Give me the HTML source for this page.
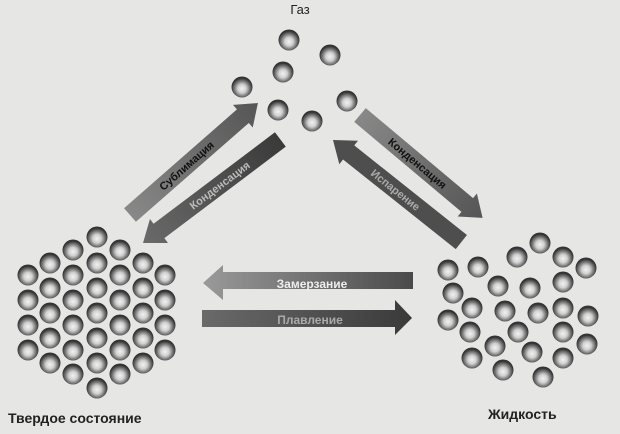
<!DOCTYPE html>
<html><head><meta charset="utf-8"><style>
html,body{margin:0;padding:0;background:#e6e6e4;}
svg{display:block;}
text{font-family:"Liberation Sans",sans-serif;}
</style></head><body>
<svg width="620" height="434" viewBox="0 0 620 434" xmlns="http://www.w3.org/2000/svg">
<defs>
<radialGradient id="ball" cx="0.5" cy="0.58" r="0.5">
<stop offset="0" stop-color="#f2f2f2"/><stop offset="0.4" stop-color="#d0d0d0"/><stop offset="0.72" stop-color="#7a7a7a"/><stop offset="1" stop-color="#333"/>
</radialGradient>
<linearGradient id="gL" x1="0" x2="1" y1="0" y2="0"><stop offset="0" stop-color="#9a9a9a"/><stop offset="1" stop-color="#4a4a4a"/></linearGradient>
<linearGradient id="gD" x1="0" x2="1"><stop offset="0" stop-color="#6a6a6a"/><stop offset="1" stop-color="#3a3a3a"/></linearGradient>
<linearGradient id="gM" x1="0" x2="1"><stop offset="0" stop-color="#888"/><stop offset="1" stop-color="#555"/></linearGradient>
<g id="b"><circle r="10.5" fill="url(#ball)"/></g>
</defs>
<rect width="620" height="434" fill="#e6e6e4"/>

<text x="300" y="14" font-size="13" text-anchor="middle" fill="#222">Газ</text>
<use href="#b" x="289" y="40"/><use href="#b" x="330" y="55"/><use href="#b" x="283" y="72"/>
<use href="#b" x="242" y="87"/><use href="#b" x="278" y="110"/><use href="#b" x="347" y="101"/><use href="#b" x="312" y="121"/>

<g>
<use href="#b" x="28" y="275"/><use href="#b" x="28" y="300"/><use href="#b" x="28" y="325"/><use href="#b" x="28" y="350"/>
<use href="#b" x="50" y="263"/><use href="#b" x="50" y="288"/><use href="#b" x="50" y="313"/><use href="#b" x="50" y="338"/><use href="#b" x="50" y="363"/>
<use href="#b" x="73" y="250"/><use href="#b" x="73" y="275"/><use href="#b" x="73" y="300"/><use href="#b" x="73" y="325"/><use href="#b" x="73" y="350"/><use href="#b" x="73" y="374"/>
<use href="#b" x="97" y="237"/><use href="#b" x="97" y="263"/><use href="#b" x="97" y="288"/><use href="#b" x="97" y="313"/><use href="#b" x="97" y="338"/><use href="#b" x="97" y="363"/><use href="#b" x="97" y="388"/>
<use href="#b" x="120" y="250"/><use href="#b" x="120" y="275"/><use href="#b" x="120" y="300"/><use href="#b" x="120" y="325"/><use href="#b" x="120" y="350"/><use href="#b" x="120" y="374"/>
<use href="#b" x="143" y="263"/><use href="#b" x="143" y="288"/><use href="#b" x="143" y="313"/><use href="#b" x="143" y="338"/><use href="#b" x="143" y="363"/>
<use href="#b" x="165" y="275"/><use href="#b" x="165" y="300"/><use href="#b" x="165" y="325"/><use href="#b" x="165" y="350"/>
</g>
<text x="8" y="423" font-size="14" fill="#222" font-weight="600">Твердое состояние</text>

<g>
<use href="#b" x="540" y="243"/><use href="#b" x="517" y="257"/><use href="#b" x="563" y="257"/><use href="#b" x="586" y="268"/>
<use href="#b" x="448" y="270"/><use href="#b" x="478" y="267"/><use href="#b" x="498" y="286"/><use href="#b" x="530" y="288"/>
<use href="#b" x="563" y="282"/><use href="#b" x="453" y="293"/><use href="#b" x="472" y="308"/><use href="#b" x="505" y="311"/>
<use href="#b" x="538" y="313"/><use href="#b" x="563" y="308"/><use href="#b" x="588" y="316"/><use href="#b" x="448" y="320"/>
<use href="#b" x="470" y="332"/><use href="#b" x="518" y="332"/><use href="#b" x="563" y="332"/><use href="#b" x="587" y="344"/>
<use href="#b" x="495" y="346"/><use href="#b" x="532" y="352"/><use href="#b" x="563" y="358"/><use href="#b" x="472" y="358"/>
<use href="#b" x="503" y="370"/><use href="#b" x="543" y="377"/>
</g>
<text x="488" y="419" font-size="14" fill="#222" font-weight="600">Жидкость</text>

<polygon points="413,272 223,272 223,265 203,283 223,300 223,289 413,289" fill="url(#gL)"/>
<text x="312" y="288" font-size="12" text-anchor="middle" fill="#eee" font-weight="600">Замерзание</text>
<polygon points="202,310 395,310 395,300 412,318 395,335 395,327 202,327" fill="url(#gD)"/>
<text x="310" y="324" font-size="12" text-anchor="middle" fill="#aaa" font-weight="600">Плавление</text>

<g transform="translate(130,215) rotate(-41.2)">
<polygon points="0,-9 150,-9 150,-15 170,0 150,15 150,9 0,9" fill="url(#gM)"/>
<text x="75" y="4" font-size="11" text-anchor="middle" fill="#111" font-weight="600">Сублимация</text>
</g>
<g transform="translate(143,243) rotate(-37)">
<polygon points="0,0 20,-15 20,-9 172,-9 172,9 20,9 20,15" fill="url(#gD)"/>
<text x="96" y="4" font-size="11" text-anchor="middle" fill="#bbb" font-weight="600">Конденсация</text>
</g>
<g transform="translate(360,115) rotate(40)">
<polygon points="0,-9 140,-9 140,-15 160,0 140,15 140,9 0,9" fill="url(#gM)"/>
<text x="75" y="4" font-size="11" text-anchor="middle" fill="#111" font-weight="600">Конденсация</text>
</g>
<g transform="translate(333,140) rotate(38.5)">
<polygon points="0,0 20,-15 20,-9 164,-9 164,9 20,9 20,15" fill="#4e4e4e"/>
<text x="80" y="4" font-size="11" text-anchor="middle" fill="#aaa" font-weight="600">Испарение</text>
</g>
</svg>
</body></html>
